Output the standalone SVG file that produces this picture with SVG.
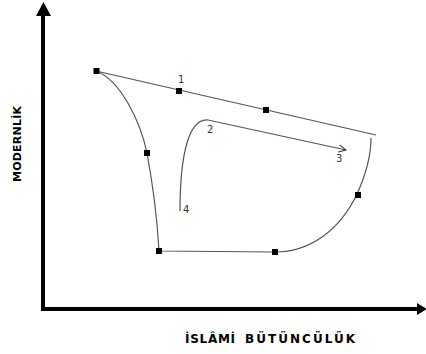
<svg xmlns="http://www.w3.org/2000/svg" width="426" height="354" viewBox="0 0 426 354">
  <style>
    .axis { stroke: #000; stroke-width: 4; fill: none; }
    .head { fill: #000; }
    .curve { stroke: #555; stroke-width: 1.2; fill: none; }
    .pt { fill: #000; }
    .num { font-family: "DejaVu Sans", sans-serif; font-size: 10px; fill: #333; }
    .lbl { font-family: "DejaVu Sans", sans-serif; font-size: 12px; font-weight: bold; fill: #000; }
    .ylbl { font-size: 11px; }
  </style>
  <defs>
    <marker id="open" viewBox="0 0 10 10" refX="9" refY="5" markerWidth="9" markerHeight="9" markerUnits="userSpaceOnUse" orient="auto">
      <path d="M1,1 L9,5 L1,9" fill="none" stroke="#333" stroke-width="1.1"/>
    </marker>
  </defs>
  <g id="axes">
    <line class="axis" x1="43" y1="311" x2="43" y2="14"/>
    <polygon class="head" points="36,16 43.5,2 51,16"/>
    <line class="axis" x1="41" y1="309" x2="418" y2="309"/>
    <polygon class="head" points="417,303 427,309 417,315"/>
    <text class="lbl ylbl" transform="translate(21,182) rotate(-90)" textLength="76" lengthAdjust="spacing">MODERNLİK</text>
    <text class="lbl" x="185" y="343" textLength="50" lengthAdjust="spacing">İSLÂMİ</text>
    <text class="lbl" x="245" y="343" textLength="110" lengthAdjust="spacing">BÜTÜNCÜLÜK</text>
  </g>
  <g id="connectors">
    <path class="curve" d="M96,71 L376,135"/>
    <path class="curve" d="M96,71 C120,80 140,120 147,153 C152,180 157,215 159,251 L275,252 C310,252 340,230 357,194 C367,172 371,155 371,138"/>
    <path class="curve" d="M180,211 C180,165 186,118 208,120 L346,150" marker-end="url(#open)"/>
  </g>
  <g id="p-start"><rect class="pt" x="93.5" y="68" width="6" height="6"/></g>
  <g id="p-1"><rect class="pt" x="176" y="88" width="6" height="6"/><text class="num" x="178" y="83">1</text></g>
  <g id="p-top-right"><rect class="pt" x="263" y="107" width="6" height="6"/></g>
  <g id="p-left"><rect class="pt" x="144" y="150" width="6" height="6"/></g>
  <g id="p-bottom-left"><rect class="pt" x="156" y="248" width="6" height="6"/></g>
  <g id="p-bottom-right"><rect class="pt" x="272" y="249" width="6" height="6"/></g>
  <g id="p-right"><rect class="pt" x="355" y="192" width="6" height="6"/></g>
  <g id="label-2"><text class="num" x="207" y="133">2</text></g>
  <g id="label-3"><text class="num" x="336" y="162">3</text></g>
  <g id="label-4"><text class="num" x="183" y="213">4</text></g>
</svg>
